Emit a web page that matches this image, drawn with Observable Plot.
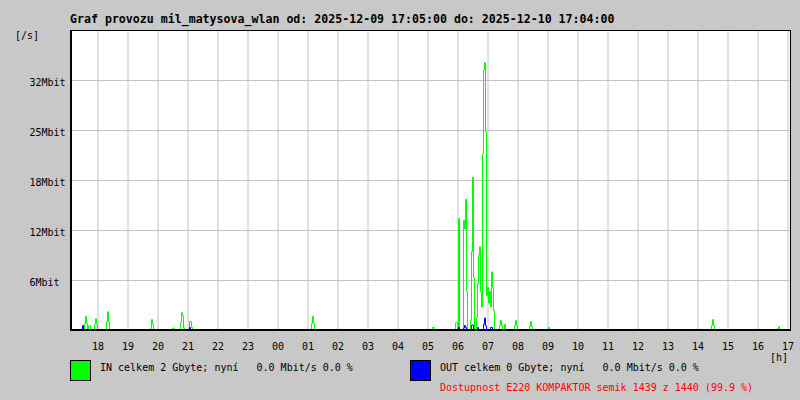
<!DOCTYPE html>
<html>
<head>
<meta charset="utf-8">
<script src="https://cdn.jsdelivr.net/npm/d3@7"></script>
<script src="https://cdn.jsdelivr.net/npm/@observablehq/plot@0.6"></script>
<style>
  html, body { margin: 0; padding: 0; background: #c8c8c8; }
  #wrap { position: relative; width: 800px; height: 400px; overflow: hidden; font-family: "DejaVu Sans Mono", monospace; }
  #wrap svg { position: absolute; left: 0; top: 0; }
  .t { position: absolute; white-space: pre; font-size: 10px; line-height: 10px; color: #000; }
  .t.title { font-weight: bold; font-size: 11.6px; }
  .sw { position: absolute; width: 21px; height: 21px; box-sizing: border-box; border: 1px solid #000; }
</style>
</head>
<body>
<div id="wrap"></div>
<script>
// ---- data (minutes after 2025-12-09 17:05 UTC, Mbit/s) ----
const titleText = "Graf provozu mil_matysova_wlan od: 2025-12-09 17:05:00 do: 2025-12-10 17:04:00";
const yTickValues = [6.4, 12.8, 19.2, 25.6, 32];
const yTickLabels = ["6Mbit", "12Mbit", "18Mbit", "25Mbit", "32Mbit"];
const yMax = 38.4;
const legendIn = "IN celkem 2 Gbyte; nyní   0.0 Mbit/s 0.0 %";
const legendOut = "OUT celkem 0 Gbyte; nyní   0.0 Mbit/s 0.0 %";
const availability = "Dostupnost E220 KOMPAKTOR semik 1439 z 1440 (99.9 %)";

const inMinute = [0, 28, 30, 32, 34, 36, 40, 48, 50, 52, 54, 72, 74, 76, 78, 114, 116,
  160, 162, 164, 166, 204, 208, 220, 222, 224, 226, 228, 238, 242, 244,
  482, 484, 486, 488, 724, 728, 770, 774, 776, 778,
  786, 788, 790, 792, 794, 800, 802, 804, 806, 808,
  812, 814, 816, 818, 820, 822, 824, 826, 828, 830, 832, 834, 836, 838, 840, 842, 844, 846, 848,
  858, 860, 862, 864, 868, 870, 888, 890, 892, 894, 918, 920, 922, 924, 956, 958,
  1282, 1284, 1286, 1288, 1414, 1416, 1418, 1440];
const inMbit = [0, 0.9, 1.8, 0.9, 0, 0.6, 0, 0.8, 1.5, 0.8, 0, 1.1, 2.4, 1.1, 0, 0.15, 0,
  0.3, 1.4, 0.8, 0, 0.3, 0, 1.0, 2.3, 1.9, 0.3, 0, 1.15, 0.4, 0,
  0.9, 1.8, 0.9, 0, 0.4, 0, 1.0, 0, 14.3, 0,
  14.1, 13.0, 16.8, 5.0, 0, 1.3, 10.1, 19.6, 6.7, 0,
  1.7, 6.0, 9.6, 10.7, 5.0, 3.0, 22.6, 33.3, 34.3, 25.4, 4.5, 5.5, 3.5, 5.0, 3.0, 7.5, 5.5, 2.5, 0,
  0.64, 1.3, 0.64, 0, 0.77, 0, 0.64, 1.3, 0.64, 0, 0.5, 1.15, 0.5, 0, 0.4, 0,
  0.64, 1.4, 0.64, 0, 0.25, 0.5, 0, 0];

const outMinute = [0, 24, 26, 238, 240, 776, 778, 786, 788, 790, 792, 802, 806, 814, 816, 826, 828, 830, 832, 840, 844, 1440];
const outMbit = [0, 0.64, 0, 0.38, 0, 0.38, 0, 0.3, 0.64, 0.4, 0, 0.7, 0, 0.38, 0, 0.8, 1.6, 0.6, 0, 0.4, 0, 0];

// ---- build ----
const start = Date.UTC(2025, 11, 9, 17, 5);
const toDate = m => new Date(start + m * 60000);
const inRows = inMinute.map((m, i) => ({t: toDate(m), v: inMbit[i]}));
const outRows = outMinute.map((m, i) => ({t: toDate(m), v: outMbit[i]}));
const x0 = toDate(0), x1 = toDate(1440);
const hourTicks = d3.utcHour.range(x0, x1);
const yLabel = new Map(yTickValues.map((v, i) => [v, yTickLabels[i]]));

const grid = "#c4c4c4";
const chart = Plot.plot({
  width: 800, height: 400,
  marginLeft: 70, marginRight: 10, marginTop: 30, marginBottom: 70,
  style: {fontFamily: "DejaVu Sans Mono, monospace", fontSize: "10px", background: "transparent", color: "#000"},
  x: {type: "utc", domain: [x0, x1], label: null},
  y: {domain: [0, yMax], label: null},
  marks: [
    Plot.frame({fill: "white", stroke: null}),
    Plot.gridX(hourTicks, {stroke: grid, strokeOpacity: 1}),
    Plot.gridY(yTickValues, {stroke: grid, strokeOpacity: 1}),
    Plot.line(inRows, {x: "t", y: "v", curve: "step-after", stroke: "#00ff00", strokeWidth: 1}),
    Plot.line(outRows, {x: "t", y: "v", curve: "step-after", stroke: "#0000ff", strokeWidth: 1}),
    Plot.frame({stroke: "#000"}),
    Plot.ruleX([x0], {stroke: "#000", strokeWidth: 2, dx: 0.5}),
    Plot.ruleY([0], {stroke: "#000", strokeWidth: 2, dy: -0.5}),
    Plot.axisX(hourTicks, {tickFormat: d3.utcFormat("%H"), tickSize: 0, tickPadding: 12.5, fontSize: 10, label: null}),
    Plot.axisY(yTickValues, {tickFormat: d => yLabel.get(d), tickSize: 0, tickPadding: 41, textAnchor: "start", dy: 2, fontSize: 10, label: null})
  ]
});
const wrap = document.getElementById("wrap");
wrap.appendChild(chart);

function addText(txt, x, baseline, cls, color) {
  const d = document.createElement("div");
  d.className = "t " + (cls || "");
  d.textContent = txt;
  const fs = cls === "title" ? 11.6 : 10;
  d.style.left = x + "px";
  d.style.top = (baseline - fs * 0.8) + "px";
  d.style.lineHeight = fs + "px";
  if (color) d.style.color = color;
  wrap.appendChild(d);
}
function addSwatch(x, y, color) {
  const d = document.createElement("div");
  d.className = "sw";
  d.style.left = x + "px"; d.style.top = y + "px"; d.style.background = color;
  wrap.appendChild(d);
}
addText(titleText, 70, 23, "title");
addText("[/s]", 15, 39);
addText("[h]", 770, 360.5);
addSwatch(70, 360, "#00ff00");
addSwatch(410, 360, "#0000ff");
addText(legendIn, 100, 371);
addText(legendOut, 440, 371);
addText(availability, 440, 391, "", "#ff0000");
</script>
</body>
</html>
